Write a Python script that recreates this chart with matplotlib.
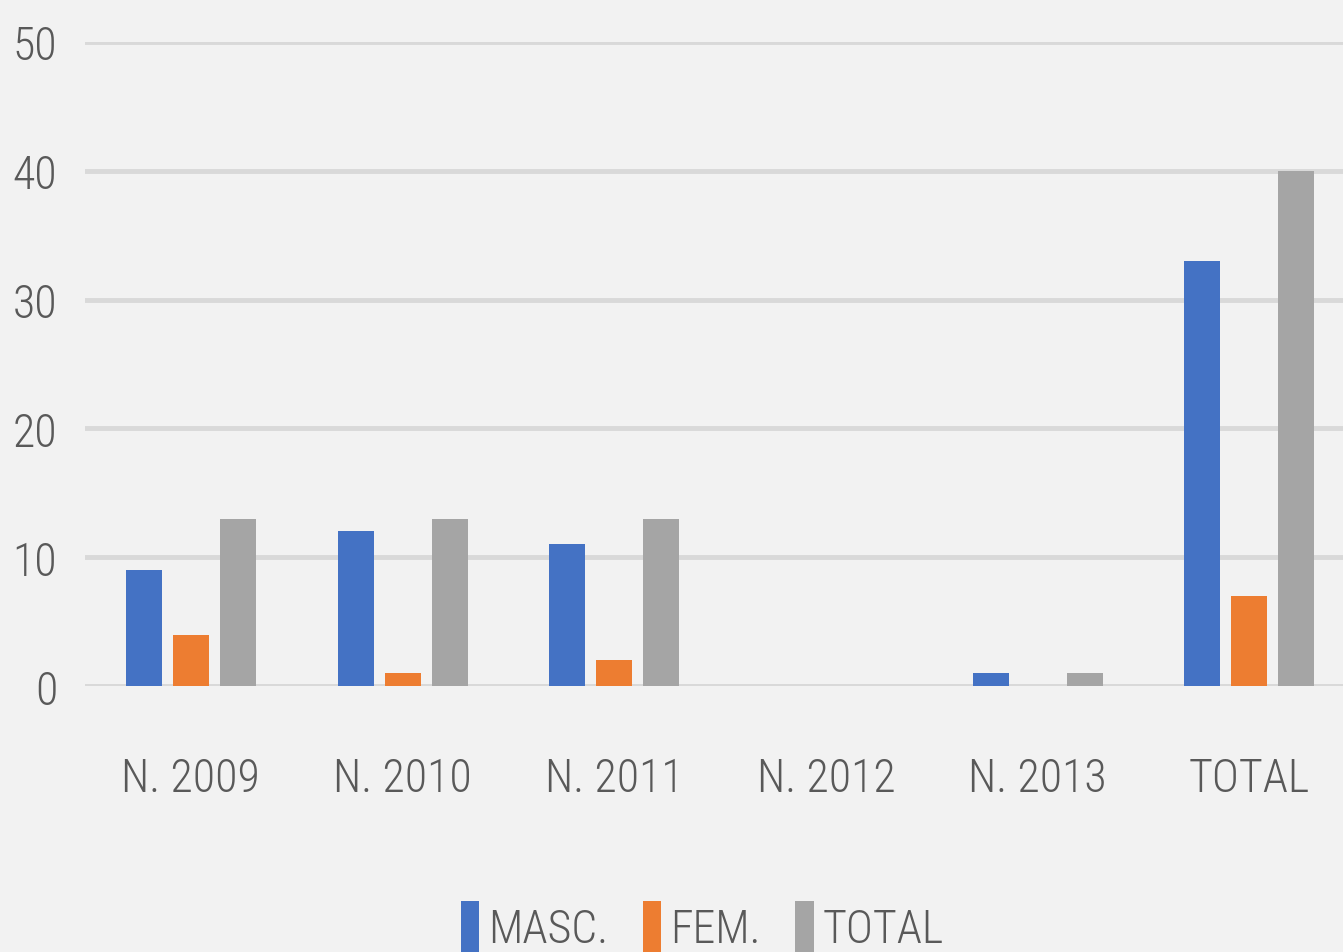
import numpy as np
import matplotlib.pyplot as plt
from matplotlib.patches import Patch

categories = ["N. 2009", "N. 2010", "N. 2011", "N. 2012", "N. 2013", "TOTAL"]
masc = [9, 12, 11, 0, 1, 33]
fem = [4, 1, 2, 0, 0, 7]
total = [13, 13, 13, 0, 1, 40]
series_names = ["MASC.", "FEM.", "TOTAL"]
colors = ["#4472c4", "#ed7d31", "#a5a5a5"]

# narrow fonts first if present, otherwise Liberation Sans
plt.rcParams["font.family"] = ["Liberation Sans Narrow", "DejaVu Sans Condensed",
                               "Roboto Condensed", "Liberation Sans"]
plt.rcParams["font.stretch"] = "condensed"
plt.rcParams["font.weight"] = "light"
text_color = "#595959"
bg = "#f2f2f2"
fs = 33

fig = plt.figure(figsize=(13.43, 9.53), dpi=100, facecolor=bg)
ax = fig.add_axes([0.0633, 0.279, 0.9457, 0.676])
ax.set_facecolor(bg)

x = np.arange(len(categories))
width = 0.17
offset = 0.222
for i, (vals, name, c) in enumerate(zip([masc, fem, total], series_names, colors)):
    ax.bar(x + (i - 1) * offset, vals, width, color=c, label=name, zorder=3)

ax.set_xlim(-0.5, len(categories) - 0.5)
ax.set_ylim(0, 50)
ax.set_yticks(range(0, 51, 10))
ax.yaxis.grid(True, color="#d9d9d9", linewidth=3.5, zorder=0)
ax.set_axisbelow(True)
ax.axhline(0, color="#d9d9d9", linewidth=3.5, zorder=1)

for s in ax.spines.values():
    s.set_visible(False)

ax.set_xticks(x)
ax.set_xticklabels(categories)
ax.tick_params(axis="both", length=0, labelsize=fs, labelcolor=text_color)
ax.tick_params(axis="y", pad=20)
ax.tick_params(axis="x", pad=50)

handles = [Patch(facecolor=c, label=n) for c, n in zip(colors, series_names)]
fig.legend(handles=handles, loc="lower center", bbox_to_anchor=(0.523, -0.045),
           ncol=3, frameon=False, fontsize=fs, labelcolor=text_color,
           handlelength=0.4, handleheight=1.4, handletextpad=0.2,
           columnspacing=0.75)

fig.savefig("out.png", dpi=100, facecolor=bg)
